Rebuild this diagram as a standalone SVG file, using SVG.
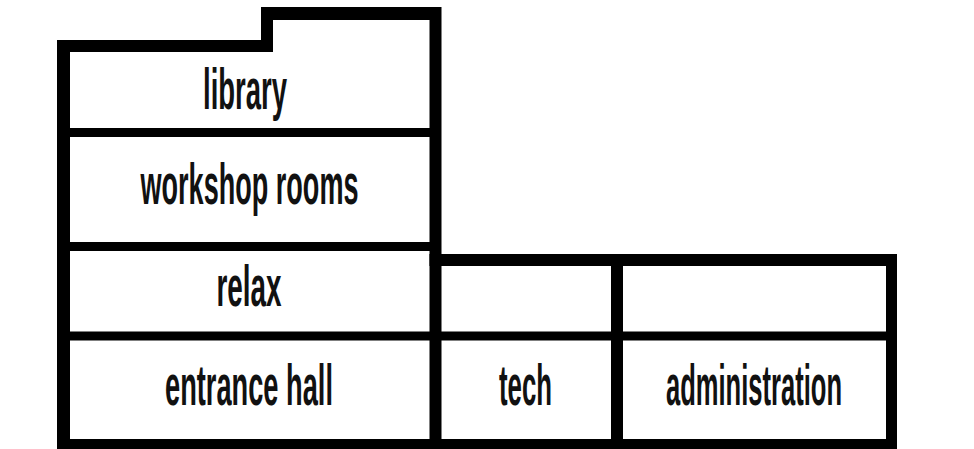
<svg xmlns="http://www.w3.org/2000/svg" width="974" height="449" viewBox="0 0 974 449">
<style>
.w{fill:#000}
.t{font-family:"Liberation Sans",Arial,sans-serif;font-weight:bold;font-size:29px;fill:#111}
</style>
<rect width="974" height="449" fill="#fff"/>
<g id="walls">
<path class="w" d="M57,40 H261 V7 H441.5 V254 H897 V449 H57 Z M70,52 V439 H886 V266 H429.5 V20 H273 V52 Z" fill-rule="evenodd"/>
<rect class="w" x="429.5" y="254" width="12" height="190"/>
<rect class="w" x="70" y="128" width="360" height="9"/>
<rect class="w" x="70" y="242" width="360" height="9"/>
<rect class="w" x="70" y="331.5" width="816" height="9"/>
<rect class="w" x="611" y="266" width="12" height="173"/>
</g>
<g id="library" transform="scale(1,2)"><text class="t" x="203" y="54.5" textLength="84" lengthAdjust="spacingAndGlyphs">library</text></g>
<g id="workshop" transform="scale(1,2)"><text class="t" x="140.5" y="102" textLength="218" lengthAdjust="spacingAndGlyphs">workshop rooms</text></g>
<g id="relax" transform="scale(1,2)"><text class="t" x="216.5" y="153.25" textLength="65" lengthAdjust="spacingAndGlyphs">relax</text></g>
<g id="entrance" transform="scale(1,2)"><text class="t" x="165" y="202.75" textLength="168" lengthAdjust="spacingAndGlyphs">entrance hall</text></g>
<g id="tech" transform="scale(1,2)"><text class="t" x="499" y="202.75" textLength="53" lengthAdjust="spacingAndGlyphs">tech</text></g>
<g id="administration" transform="scale(1,2)"><text class="t" x="666" y="202.75" textLength="176" lengthAdjust="spacingAndGlyphs">administration</text></g>
<g id="connectors"/>
</svg>
